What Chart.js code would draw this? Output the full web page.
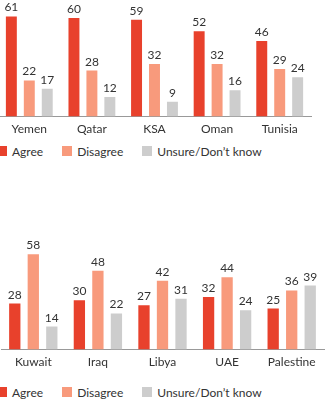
<!DOCTYPE html>
<html>
<head>
<meta charset="utf-8">
<script src="https://cdn.jsdelivr.net/npm/chart.js@4.4.1/dist/chart.umd.min.js"></script>
<style>
  html, body { margin: 0; padding: 0; background: #fff; }
  body { width: 326px; height: 400px; position: relative; overflow: hidden; font-family: Lato, sans-serif; }
  .panel { position: absolute; left: -10px; width: 336px; height: 141px; }
  .legend { position: absolute; left: -3px; height: 14px; font-size: 12px; color: #333; display: flex; align-items: center; white-space: nowrap; }
  .legend .sw { width: 10px; height: 10px; margin-right: 5px; }
  .legend .item { display: flex; align-items: center; margin-right: 19px; }
</style>
</head>
<body>
<div class="panel" style="top:0"><canvas id="chartTop"></canvas></div>
<div class="legend" id="legendTop" style="top:144px"></div>
<div class="panel" style="top:233px"><canvas id="chartBottom"></canvas></div>
<div class="legend" id="legendBottom" style="top:385px"></div>
<script>
// ── data ─────────────────────────────────────────────────────────────────────
const seriesNames = ["Agree", "Disagree", "Unsure/Don\u2019t know"];
const seriesColors = ["#e8412c", "#f89a7c", "#cdcdcd"];

const categoriesTop = ["Yemen", "Qatar", "KSA", "Oman", "Tunisia"];
const agreeTop = [61, 60, 59, 52, 46];
const disagreeTop = [22, 28, 32, 32, 29];
const unsureTop = [17, 12, 9, 16, 24];

const categoriesBottom = ["Kuwait", "Iraq", "Libya", "UAE", "Palestine"];
const agreeBottom = [28, 30, 27, 32, 25];
const disagreeBottom = [58, 48, 42, 44, 36];
const unsureBottom = [14, 22, 31, 24, 39];

Chart.defaults.font.family = "Lato, sans-serif";
Chart.defaults.font.size = 12;
Chart.defaults.color = "#333";

// value labels above bars
const valueLabels = {
    id: "valueLabels",
    afterDatasetsDraw(chart) {
        const ctx = chart.ctx;
        ctx.save();
        ctx.font = "12px Lato, sans-serif";
        ctx.fillStyle = "#333";
        ctx.textAlign = "center";
        ctx.textBaseline = "alphabetic";
        chart.data.datasets.forEach((ds, i) => {
            chart.getDatasetMeta(i).data.forEach((el, j) => {
                ctx.fillText(ds.data[j], el.x, el.y - 5);
            });
        });
        ctx.restore();
    },
};

function buildPanel(canvasId, labels, agree, disagree, unsure, padLeft, padRight) {
    const values = [agree, disagree, unsure];
    const ctx = document.getElementById(canvasId).getContext("2d");
    return new Chart(ctx, {
        type: "bar",
        data: {
            labels,
            datasets: values.map((data, i) => ({
                label: seriesNames[i],
                data,
                backgroundColor: seriesColors[i],
                borderWidth: 0,
                categoryPercentage: 0.86,
                barPercentage: 0.61,
            })),
        },
        options: {
            responsive: true,
            maintainAspectRatio: false,
            animation: false,
            layout: { padding: { left: padLeft, right: padRight, top: 0, bottom: 0 } },
            scales: {
                x: {
                    grid: { display: false, drawTicks: false },
                    border: { display: true, color: "#999", width: 1 },
                    ticks: { padding: 5, color: "#333", font: { size: 12 } },
                },
                y: { display: false, min: 0, max: 71 },
            },
            plugins: { legend: { display: false }, tooltip: { enabled: false } },
        },
        plugins: [valueLabels],
    });
}

function buildLegend(id) {
    const el = document.getElementById(id);
    seriesNames.forEach((name, i) => {
        const item = document.createElement("span");
        item.className = "item";
        item.innerHTML = `<span class="sw" style="background:${seriesColors[i]}"></span>${name}`;
        el.appendChild(item);
    });
}

buildPanel("chartTop", categoriesTop, agreeTop, disagreeTop, unsureTop, 8, 15);
buildPanel("chartBottom", categoriesBottom, agreeBottom, disagreeBottom, unsureBottom, 11, 2);
buildLegend("legendTop");
buildLegend("legendBottom");
</script>
</body>
</html>
